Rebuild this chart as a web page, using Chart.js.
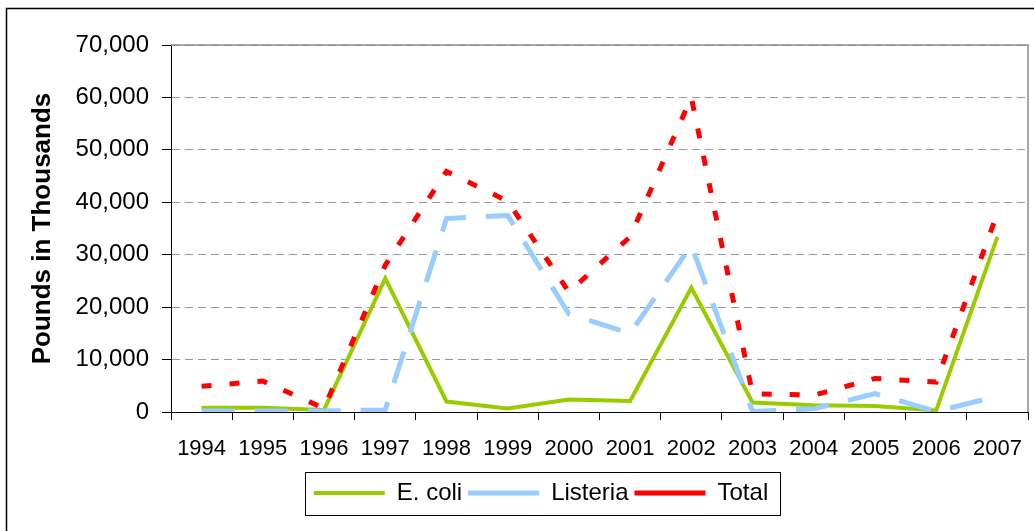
<!DOCTYPE html>
<html><head><meta charset="utf-8">
<script src="https://cdn.jsdelivr.net/npm/chart.js@4.4.1/dist/chart.umd.min.js"></script>
<style>html,body{margin:0;padding:0;background:#fff;} #wrap{width:1034px;height:531px;position:relative;}</style>
</head><body><div id="wrap"><canvas id="c" width="1034" height="531"></canvas></div>
<script>
const years = ['1994','1995','1996','1997','1998','1999','2000','2001','2002','2003','2004','2005','2006','2007'];
const ecoli = [800, 800, 400, 25500, 2000, 650, 2400, 2100, 23700, 1800, 1300, 1150, 300, 33400];
const listeria = [200, 200, 200, 400, 36900, 37500, 18700, 15000, 31800, 100, 600, 3500, 100, 3000];
const total = [4900, 5900, 700, 28000, 45900, 40200, 22900, 33400, 60000, 3500, 3200, 6400, 5700, 37900];
const yMin = 0, yMax = 70000, yStep = 10000;

const FONT = 'Arial, "Liberation Sans", sans-serif';

const framePlugin = {
  id: 'framePlugin',
  beforeDraw(chart) {
    const ctx = chart.ctx;
    ctx.save();
    ctx.fillStyle = '#fff';
    ctx.fillRect(0, 0, chart.width, chart.height);
    ctx.strokeStyle = '#000';
    ctx.lineWidth = 1.5;
    ctx.strokeRect(6.5, 8.5, chart.width + 40, chart.height + 40);
    ctx.restore();
  },
  beforeDatasetsDraw(chart) {
    const a = chart.chartArea, ctx = chart.ctx;
    ctx.save();
    ctx.strokeStyle = '#8a8a8a';
    ctx.lineWidth = 1.5;
    ctx.beginPath();
    ctx.moveTo(a.left, a.top);
    ctx.lineTo(a.right, a.top);
    ctx.lineTo(a.right, a.bottom);
    ctx.stroke();
    ctx.restore();
  },
  afterLayout(chart) {
    const lg = chart.legend;
    const shift = 541 - (lg.left + lg.right) / 2;
    lg.left += shift; lg.right += shift;
  },
  afterDraw(chart) {
    const lg = chart.legend, ctx = chart.ctx;
    const P = lg.options.labels.padding;
    const fs = lg.options.labels.font.size;
    const start = (lg.left + P + lg.right - lg.lineWidths[0]) / 2;
    const end = start + lg.lineWidths[0] - P;
    const cy = lg.top + P + fs / 2;
    ctx.save();
    ctx.strokeStyle = '#000';
    ctx.lineWidth = 1;
    ctx.strokeRect(Math.round(start - 9) + 0.5, Math.round(cy - 21.5) + 0.5, Math.round(end - start + 21), 43);
    ctx.restore();
  }
};

new Chart(document.getElementById('c'), {
  type: 'line',
  data: {
    labels: years,
    datasets: [
      {label: 'E. coli', data: ecoli, borderColor: '#99CC00', backgroundColor: '#99CC00', borderWidth: 4, pointRadius: 0, tension: 0, order: 3},
      {label: 'Listeria', data: listeria, borderColor: '#99CCFF', backgroundColor: '#99CCFF', borderWidth: 5, borderDash: [33, 20], pointRadius: 0, tension: 0, order: 2},
      {label: 'Total', data: total, borderColor: '#FF0000', backgroundColor: '#FF0000', borderWidth: 5, borderDash: [10, 18], pointRadius: 0, tension: 0, order: 1}
    ]
  },
  options: {
    responsive: false, animation: false, devicePixelRatio: 1,
    layout: {padding: {top: 45, right: 6, bottom: 16, left: 20}},
    plugins: {
      legend: {
        position: 'bottom',
        labels: {
          usePointStyle: true, pointStyle: 'line', pointStyleWidth: 71, padding: 6,
          color: '#000', font: {family: FONT, size: 24},
          sort: (a, b) => a.datasetIndex - b.datasetIndex
        }
      },
      tooltip: {enabled: false}
    },
    scales: {
      x: {
        offset: true,
        grid: {offset: true, drawOnChartArea: false, drawTicks: true, tickLength: 8, tickColor: '#000', tickWidth: 1},
        border: {color: '#000', width: 1},
        ticks: {color: '#000', font: {family: FONT, size: 22}, padding: 16, maxRotation: 0, autoSkip: false},
        afterFit(s) { s.height = 63; s.paddingRight = 0; s.paddingLeft = 0; }
      },
      y: {
        min: yMin, max: yMax,
        ticks: {stepSize: yStep, color: '#000', font: {family: FONT, size: 24}, padding: 13,
          callback: v => v.toLocaleString('en-US')},
        grid: {color: '#999', tickColor: '#000', tickLength: 9, tickBorderDash: [], lineWidth: 1},
        border: {color: '#000', width: 1, dash: [8, 5]},
        title: {display: true, text: 'Pounds in Thousands', color: '#000', font: {family: FONT, size: 26, weight: 'bold'}, padding: {top: 7, bottom: 0}},
        afterFit(s) { s.width = 151; }
      }
    }
  },
  plugins: [framePlugin]
});
</script>
</body></html>
